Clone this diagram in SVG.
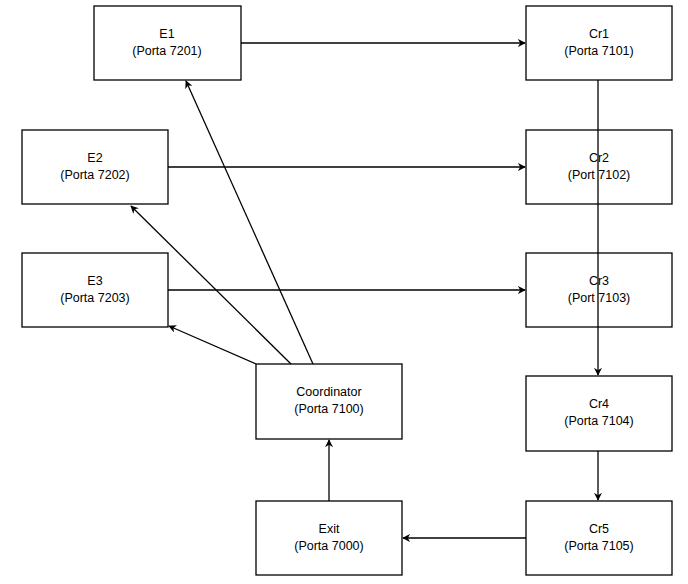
<svg xmlns="http://www.w3.org/2000/svg" width="688" height="584" viewBox="0 0 688 584">
<style>
.n rect{fill:#fff;stroke:#000;stroke-width:1.3}
.n text{font-family:"Liberation Sans",Arial,sans-serif;font-size:12.5px;fill:#000;text-anchor:middle}
.c path{fill:none;stroke:#000;stroke-width:1.3;marker-end:url(#a)}
</style>
<defs><marker id="a" viewBox="0 0 10 10" refX="9" refY="5" markerWidth="8" markerHeight="8" markerUnits="userSpaceOnUse" orient="auto"><path d="M0,0L10,5L0,10L3,5Z" fill="#000"/></marker></defs>
<rect width="688" height="584" fill="#fff"/>
<g id="E1" class="n"><rect x="94" y="6" width="147" height="74"/><text x="167" y="38">E1</text><text x="167" y="55">(Porta 7201)</text></g>
<g id="E2" class="n"><rect x="22" y="130" width="146" height="74"/><text x="95" y="162">E2</text><text x="95" y="179">(Porta 7202)</text></g>
<g id="E3" class="n"><rect x="22" y="253" width="146" height="74"/><text x="95" y="285">E3</text><text x="95" y="302">(Porta 7203)</text></g>
<g id="Coord" class="n"><rect x="256" y="364" width="146" height="75"/><text x="329" y="396">Coordinator</text><text x="329" y="413">(Porta 7100)</text></g>
<g id="Exit" class="n"><rect x="256" y="501" width="146" height="74"/><text x="329" y="533">Exit</text><text x="329" y="550">(Porta 7000)</text></g>
<g id="Cr1" class="n"><rect x="526" y="6" width="146" height="74"/><text x="599" y="38">Cr1</text><text x="599" y="55">(Porta 7101)</text></g>
<g id="Cr2" class="n"><rect x="526" y="130" width="146" height="74"/><text x="599" y="162">Cr2</text><text x="599" y="179">(Port 7102)</text></g>
<g id="Cr3" class="n"><rect x="526" y="253" width="146" height="74"/><text x="599" y="285">Cr3</text><text x="599" y="302">(Port 7103)</text></g>
<g id="Cr4" class="n"><rect x="526" y="376" width="146" height="75"/><text x="599" y="408">Cr4</text><text x="599" y="425">(Porta 7104)</text></g>
<g id="Cr5" class="n"><rect x="526" y="501" width="146" height="74"/><text x="599" y="533">Cr5</text><text x="599" y="550">(Porta 7105)</text></g>
<g class="c">
<path d="M241,43H525"/><path d="M168,167H525"/><path d="M168,290H525"/>
<path d="M598,80V375"/><path d="M598,451V500"/>
<path d="M526,538H403"/><path d="M329,501V440"/>
<path d="M313,364L186,81"/><path d="M291,364L131,206"/><path d="M256,364L169,326"/>
</g>
</svg>
